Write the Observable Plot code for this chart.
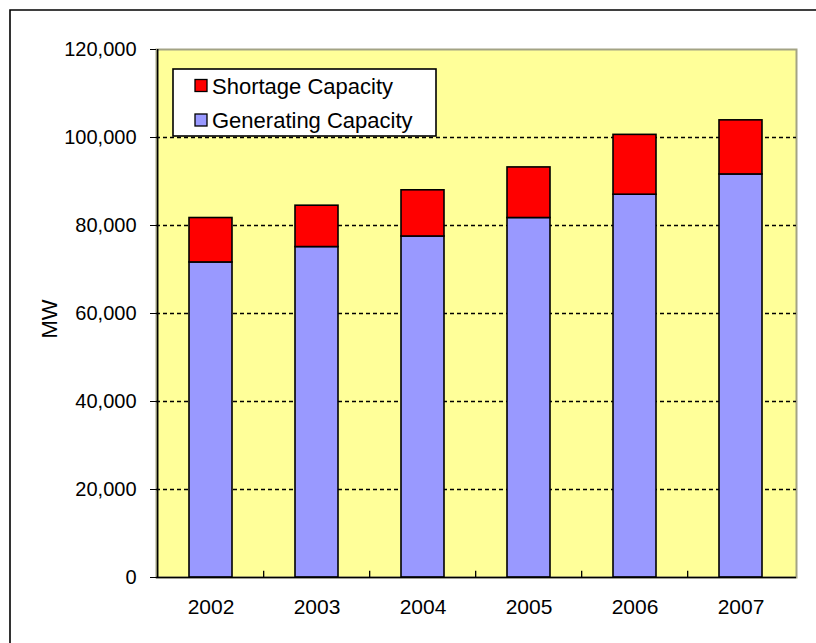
<!DOCTYPE html>
<html>
<head>
<meta charset="utf-8">
<script src="https://cdn.jsdelivr.net/npm/d3@7"></script>
<script src="https://cdn.jsdelivr.net/npm/@observablehq/plot@0.6"></script>
<style>
  body { margin: 0; background: #fff; }
  #chart svg { display: block; }
</style>
</head>
<body>
<div id="chart"></div>
<script>
// Annual capacity in MW
const years = ["2002", "2003", "2004", "2005", "2006", "2007"];
const generating = [71600, 75100, 77500, 81700, 87000, 91600];
const shortage = [10100, 9400, 10500, 11500, 13600, 12300];

const seriesNames = ["Shortage Capacity", "Generating Capacity"];
const seriesColors = ["#FF0000", "#9999FF"];

const yTicks = [0, 20000, 40000, 60000, 80000, 100000, 120000];

// long format, generating first so it sits at the bottom of each stack
const rows = [
  ...years.map((year, i) => ({year, series: seriesNames[1], value: generating[i]})),
  ...years.map((year, i) => ({year, series: seriesNames[0], value: shortage[i]}))
];

const W = 816, H = 643;
const mL = 156, mR = 20, mT = 49, mB = 66;
const halfStep = (W - mL - mR) / years.length / 2;
const font = "'Liberation Sans', Arial, sans-serif";

const plot = Plot.plot({
  width: W,
  height: H,
  marginLeft: mL,
  marginRight: mR,
  marginTop: mT,
  marginBottom: mB,
  style: {fontFamily: font, fontSize: "20px", color: "black", background: "white"},
  x: {domain: years, paddingInner: 0.59, paddingOuter: 0.295, label: null},
  y: {domain: [0, 120000], label: null},
  color: {domain: seriesNames, range: seriesColors},
  marks: [
    Plot.frame({fill: "#FFFF99", stroke: "#A3A385", strokeWidth: 2}),
    Plot.ruleY(yTicks.filter(v => v > 0 && v < 120000), {
      stroke: "black", strokeWidth: 1.4, strokeDasharray: "4,3"
    }),
    Plot.barY(rows, {
      x: "year", y: "value", fill: "series",
      stroke: "black", strokeWidth: 1.6
    }),
    // category separators rising from the baseline
    Plot.ruleX(years.slice(1), {
      x: d => d, dx: -halfStep, y1: 0, y2: 1400, stroke: "black", strokeWidth: 1.3
    }),
    Plot.ruleY([0], {stroke: "black", strokeWidth: 1.6}),
    Plot.ruleX([years[0]], {
      x: d => d, dx: -halfStep, y1: 0, y2: 120000, stroke: "black", strokeWidth: 1.6
    }),
    Plot.axisY({
      ticks: yTicks, tickFormat: d3.format(","), tickSize: 6, tickPadding: 14,
      fontSize: 20, label: null, stroke: "black"
    }),
    Plot.axisX({tickSize: 0, tickPadding: 22, fontSize: 21, label: null})
  ]
});

document.getElementById("chart").appendChild(plot);

const svg = d3.select(plot);

// chart border (top and left edges)
svg.append("path")
  .attr("d", `M10,${H} V10 H${W}`)
  .attr("fill", "none")
  .attr("stroke", "black")
  .attr("stroke-width", 1.6);

// y axis title
svg.append("text")
  .attr("transform", "translate(57,319) rotate(-90)")
  .attr("text-anchor", "middle")
  .attr("font-family", font)
  .attr("font-size", 22)
  .attr("fill", "black")
  .text("MW");

// legend box
const lg = svg.append("g").attr("transform", "translate(173,69)");
lg.append("rect")
  .attr("width", 263).attr("height", 67)
  .attr("fill", "white").attr("stroke", "black").attr("stroke-width", 1.6);
seriesNames.forEach((name, i) => {
  const cy = 16.5 + i * 34.5;
  lg.append("rect")
    .attr("x", 22).attr("y", cy - 6).attr("width", 12).attr("height", 12)
    .attr("fill", seriesColors[i]).attr("stroke", "black").attr("stroke-width", 1.3);
  lg.append("text")
    .attr("x", 39).attr("y", cy + 8)
    .attr("text-anchor", "start")
    .attr("font-family", font).attr("font-size", 22).attr("fill", "black")
    .text(name);
});
</script>
</body>
</html>
